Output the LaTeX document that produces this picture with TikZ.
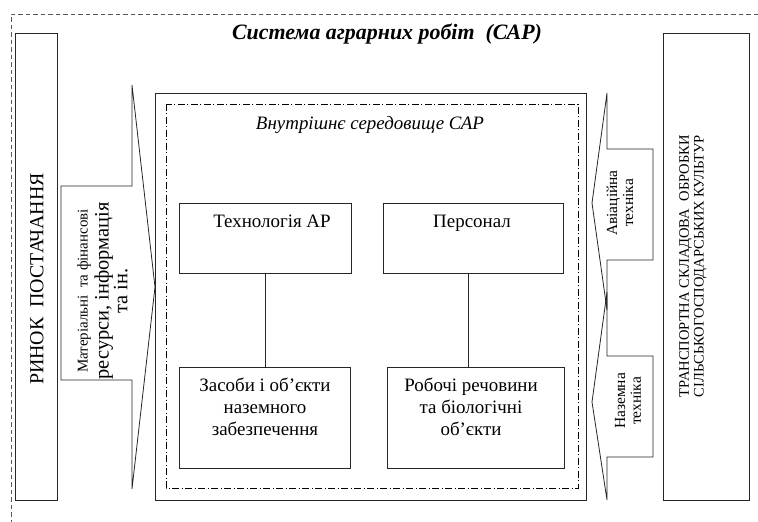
\documentclass[tikz,border=0pt]{standalone}
\usepackage{fontspec}
\setmainfont{Liberation Serif}
\newcommand{\fsz}[2]{\fontsize{#1}{#2}\selectfont}
\begin{document}
\begin{tikzpicture}[x=1bp,y=-1bp,
  line/.style={draw=black!85,line width=0.8bp},
  box/.style={line,rectangle,inner sep=0pt},
  frame/.style={draw=black!65,line width=0.8bp,dash pattern=on 4.5bp off 3bp},
  inner/.style={draw=black,line width=0.7bp,dash pattern=on 7bp off 2.5bp on 1bp off 2.5bp},
  txt/.style={inner sep=0pt,align=center},
  arrowshape/.style={line,line join=miter}]
\useasboundingbox (0,0) rectangle (758,522);
% outer dashed frame
\draw[frame] (758,14) -- (11,14) -- (11,522);
\node[txt,anchor=base,font=\fsz{22}{24}\bfseries\itshape] (title) at (387,40) {Система аграрних робіт\ \ (САР)};
% left market box
\node[box,anchor=north west,minimum width=42bp,minimum height=467bp] (market) at (15,33) {};
\node[txt,rotate=90,font=\fsz{20}{22}] (marketT) at (37,279) {РИНОК\ \ ПОСТАЧАННЯ};
% left arrow
\draw[arrowshape] (61,186) -- (132,186) -- (132,85) -- (155,287) -- (132,489) -- (132,380) -- (61,380) -- cycle;
\node[txt,rotate=90,font=\fsz{20.5}{20}] (resT) at (102.5,291) {{\fsz{15}{15}Матеріальні\ \ та фінансові}\\[1bp]ресурси, інформація\\[-1bp]та ін.};
% inner environment
\node[box,anchor=north west,minimum width=431bp,minimum height=407bp] (env) at (155,93) {};
\draw[inner] (166,104) rectangle (578,488);
\node[txt,anchor=base,font=\fsz{19}{21}\itshape] (envT) at (370,130) {Внутрішнє середовище САР};
% four boxes
\node[box,anchor=north west,minimum width=172bp,minimum height=70bp] (tech) at (179,203) {};
\node[txt,anchor=base,font=\fsz{19}{21}] (techT) at (272,228) {Технологія АР};
\node[box,anchor=north west,minimum width=180bp,minimum height=70bp] (pers) at (383,203) {};
\node[txt,anchor=base,font=\fsz{19}{21}] (persT) at (472,228) {Персонал};
\node[box,anchor=north west,minimum width=171bp,minimum height=101bp] (zas) at (179,367) {};
\node[txt,font=\fsz{19}{22}] (zasT) at (265,407) {Засоби і об’єкти\\наземного\\забезпечення};
\node[box,anchor=north west,minimum width=177bp,minimum height=101bp] (rob) at (387,367) {};
\node[txt,font=\fsz{19}{22}] (robT) at (471,407) {Робочі речовини\\та біологічні\\об’єкти};
\draw[line] (tech.south) -- (tech.south |- zas.north);
\draw[line] ([xshift=-5bp]pers.south) -- ([xshift=-5bp]pers.south |- rob.north);
% right arrows
\draw[arrowshape] (653,149) -- (607,149) -- (607,93) -- (592,203) -- (607,310) -- (607,260) -- (653,260) -- cycle;
\node[txt,rotate=90,font=\fsz{15.5}{16}] (avT) at (620,203) {Авіаційна\\техніка};
\draw[arrowshape] (653,356) -- (607,356) -- (607,292) -- (592,402) -- (607,500) -- (607,457) -- (653,457) -- cycle;
\node[txt,rotate=90,font=\fsz{15.5}{16}] (nazT) at (628,401) {Наземна\\техніка};
% right box
\node[box,anchor=north west,minimum width=86bp,minimum height=467bp] (trans) at (663,33) {};
\node[txt,rotate=90,font=\fsz{14.6}{15}] (transT) at (693,266) {\makebox[262bp][s]{ТРАНСПОРТНА СКЛАДОВА\ \ ОБРОБКИ}\\\makebox[262bp][s]{СІЛЬСЬКОГОСПОДАРСЬКИХ КУЛЬТУР}};
\end{tikzpicture}
\end{document}
